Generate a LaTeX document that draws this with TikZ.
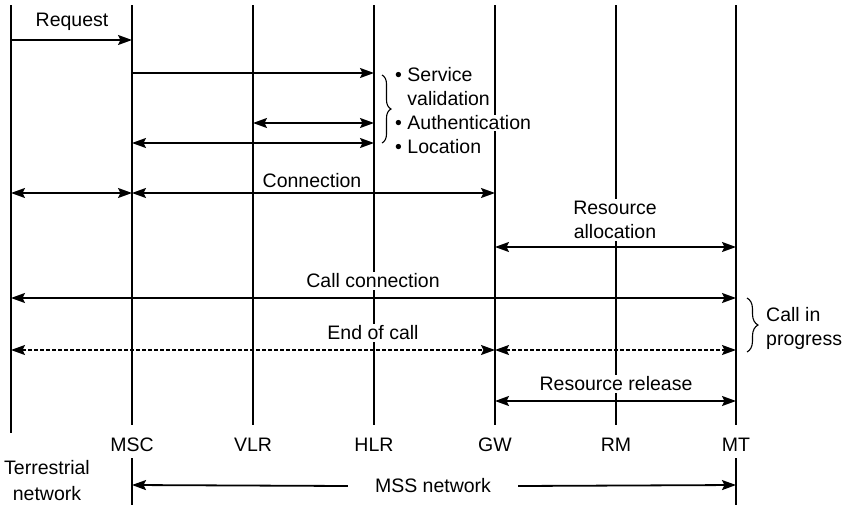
\documentclass[tikz,border=0pt]{standalone}
\usepackage{fontspec}
\setmainfont{Liberation Sans}
\usepackage{tikz}
\usetikzlibrary{arrows.meta,positioning,calc,decorations.pathreplacing}
\tikzset{
  life/.style={line width=2.5pt, draw=black},
  msg/.style={line width=1.8pt, draw=black, >={Stealth[length=14pt,width=10pt,inset=2.5pt]}},
  endmsg/.style={msg, line width=1.4pt, dash pattern=on 3.5pt off 2.5pt},
  lbl/.style={font=\fontsize{19.5}{24}\selectfont, align=center, inner sep=2pt},
  cut/.style={lbl, fill=white},
  note/.style={cut, anchor=west, inner sep=1pt},
  brc/.style={decorate, decoration={brace, amplitude=#1}, line width=1.1pt},
  brc/.default=9pt,
}

\begin{document}
\begin{tikzpicture}[x=1pt, y=-1pt]
  \useasboundingbox (0,0) rectangle (847,507);
  \coordinate (tn-t) at (11,5);
  \coordinate (tn-b) at (11,433);
  \foreach \n/\x/\t in {msc/132/MSC, vlr/253/VLR, hlr/374/HLR, gw/495/GW, rm/616/RM, mt/736/MT} {
    \node[lbl] (\n) at (\x,445) {\t};
    \coordinate (\n-t) at (\x,5);
    \coordinate (\n-b) at (\x,425);
  }
  \foreach \n in {tn,msc,vlr,hlr,gw,rm,mt}
    \draw[life] (\n-t) -- (\n-b);

  % message rows
  \foreach \r/\y in {rq/40, sv/73, au/123, lo/143, cn/193, ra/247, cc/298, ec/350, rr/401, mr/485, tk/458, tb/505}
    \coordinate (\r) at (0,\y);

  \draw[msg,->] (tn-t |- rq) -- (msc-t |- rq);
  \draw[msg,->] (msc-t |- sv) -- (hlr-t |- sv);
  \draw[msg,<->] (vlr-t |- au) -- (hlr-t |- au);
  \draw[msg,<->] (msc-t |- lo) -- (hlr-t |- lo);
  \draw[msg,<->] (tn-t |- cn) -- (msc-t |- cn);
  \draw[msg,<->] (msc-t |- cn) -- (gw-t |- cn);
  \draw[msg,<->] (gw-t |- ra) -- (mt-t |- ra);
  \draw[msg,<->] (tn-t |- cc) -- (mt-t |- cc);
  \draw[endmsg,<->] (tn-t |- ec) -- (gw-t |- ec);
  \draw[endmsg,<->] (gw-t |- ec) -- (mt-t |- ec);
  \draw[msg,<->] (gw-t |- rr) -- (mt-t |- rr);

  \node[lbl] (lreq) at (72,22) {Request};
  \node[cut] (lcon) at (312,181) {Connection};
  \node[cut] (lra) at (615,220) {Resource\\allocation};
  \node[cut] (lcc) at (373,281) {Call connection};
  \node[cut] (lec) at (373,333) {End of call};
  \node[cut] (lrr) at (616,384) {Resource release};

  \node[note] (sv1) at (394,75) {\textbullet\ Service};
  \node[note] (sv2) at (394,99) {\phantom{\textbullet\ }validation};
  \node[note] (au1) at (394,123) {\textbullet\ Authentication};
  \node[note] (lo1) at (394,147) {\textbullet\ Location};
  \draw[brc] (382,75) -- (382,143);

  \draw[brc=11pt] (747,298) -- (747,352);
  \node[lbl, align=left, anchor=west] (cip) at (764,328) {Call in\\progress};

  \node[lbl, font=\fontsize{19.5}{26}\selectfont] (terr) at (47,481) {Terrestrial\\network};
  \node[lbl, inner xsep=27pt] (mss) at (433,486) {MSS network};
  \draw[life] (msc |- tk) -- (msc |- tb);
  \draw[life] (mt |- tk) -- (mt |- tb);
  \draw[msg,->] (mss.west) -- (msc |- mr);
  \draw[msg,->] (mss.east) -- (mt |- mr);
\end{tikzpicture}
\end{document}
